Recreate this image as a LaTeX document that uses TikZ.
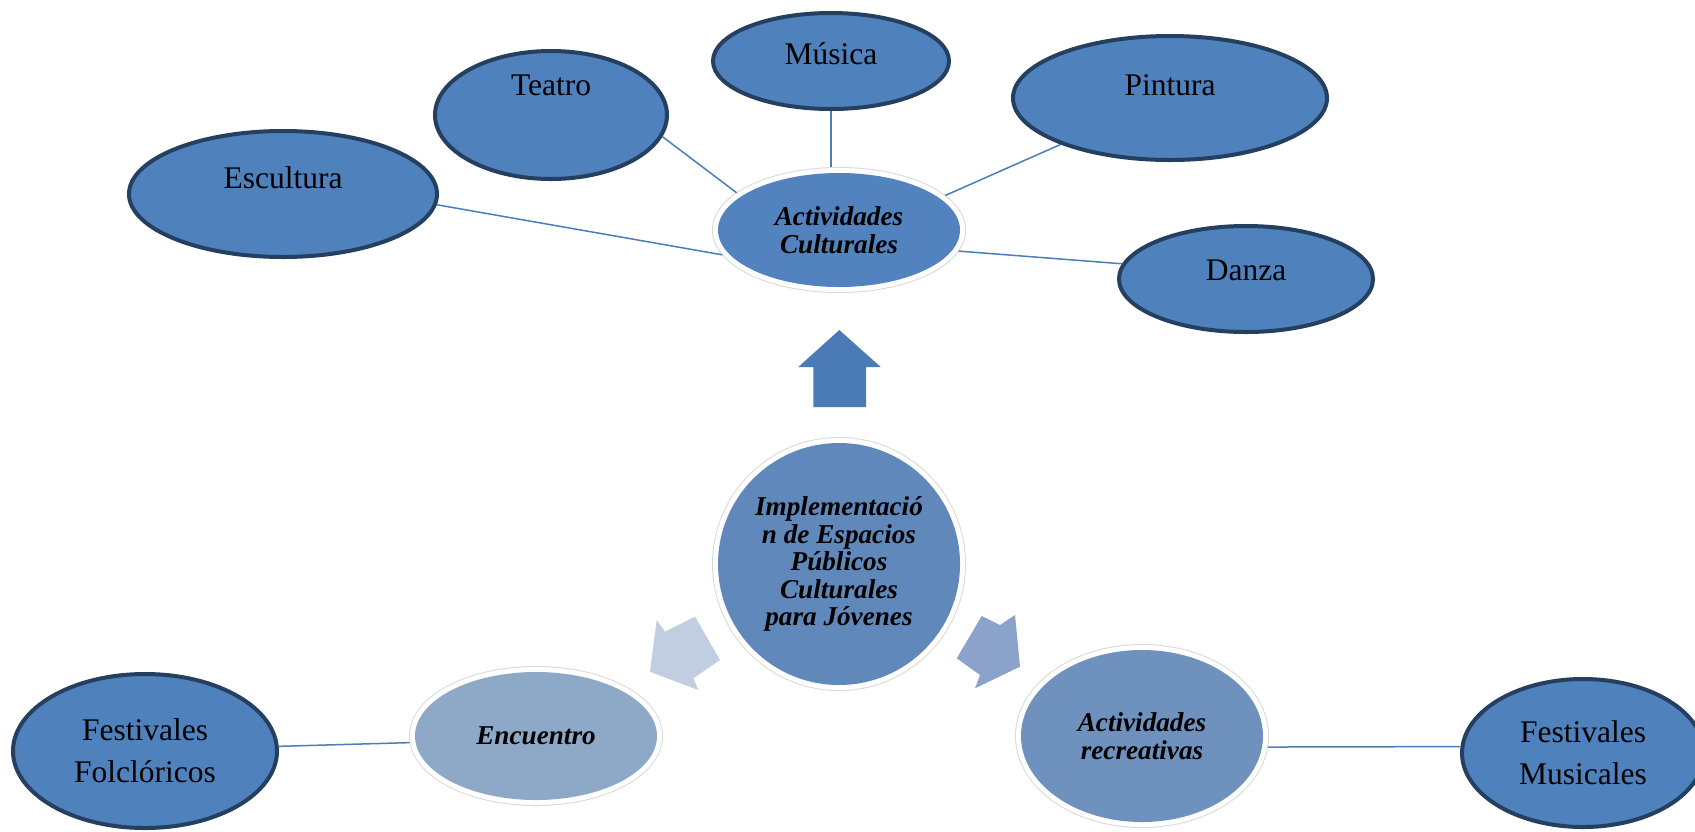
\documentclass[tikz,border=0pt]{standalone}
\usepackage{fontspec}
\setmainfont{Liberation Serif}
\usetikzlibrary{shapes.geometric}

\definecolor{bubblefill}{HTML}{4F81BD}
\definecolor{bubbleline}{HTML}{243F60}
\definecolor{linkblue}{HTML}{4A7EBB}
\definecolor{cultfill}{HTML}{5283BF}
\definecolor{hubfill}{HTML}{6088BB}
\definecolor{encfill}{HTML}{8EA8C8}
\definecolor{recfill}{HTML}{6E91BE}
\definecolor{arrowpale}{HTML}{C1CDE1}
\definecolor{arrowmid}{HTML}{8BA3CA}
\definecolor{arrowup}{HTML}{4A7BB7}

\newcommand\hubfont{\fontsize{13.6}{13.75}\selectfont\bfseries\itshape\lineskiplimit=-20pt\relax}

\tikzset{
  tag/.style={font=\fontsize{15.75}{21}\selectfont, align=center},
  bubble/.style={ellipse, draw=bubbleline, line width=2pt, fill=bubblefill,
    inner sep=0pt, tag},
  halo/.style={ellipse, inner sep=0pt, outer sep=3pt,
    preaction={draw=black!15, line width=6pt},
    preaction={draw=white, line width=5pt},
    font=\hubfont, align=center},
  link/.style={draw=linkblue, line width=0.75pt},
}

\begin{document}
\begin{tikzpicture}[x=0.5pt, y=-0.5pt]
    \useasboundingbox[fill=white] (0,0) rectangle (1695,831);
    % flechas
    \fill[arrowup] (839.3,330) -- (880.7,367) -- (866,367) -- (866,407)
        -- (813.3,407) -- (813.3,367) -- (798.3,367) -- cycle;
    \fill[arrowpale] (650,671.7) -- (656.7,620) -- (665,631.7) -- (695,616.7)
        -- (720,660) -- (693.3,678.3) -- (698.3,690) -- cycle;
    \fill[arrowmid] (981.7,616) -- (1000,625) -- (1015,615) -- (1020,666.7)
        -- (975,688.3) -- (980,675) -- (956.7,658.3) -- cycle;

    \node[halo, fill=cultfill, minimum width=121pt, minimum height=57pt] (cult) at (839,230)
        {Actividades\\Culturales};
    \node[halo, circle, fill=hubfill, minimum size=121pt] (hub) at (839,564)
        {Implementació\\n de Espacios\\Públicos\\Culturales\\para Jóvenes};
    \node[halo, fill=encfill, minimum width=121pt, minimum height=64pt] (encuentro) at (536,736)
        {Encuentro};
    \node[halo, fill=recfill, minimum width=121pt, minimum height=86pt] (recreo) at (1142,736)
        {Actividades\\recreativas};

    \node[bubble, minimum width=154pt, minimum height=63pt,
        label={[tag, yshift=8pt]center:Escultura}] (escultura) at (283,194) {};
    \node[bubble, minimum width=116pt, minimum height=64pt,
        label={[tag, yshift=15pt]center:Teatro}] (teatro) at (551,115) {};
    \node[bubble, minimum width=118pt, minimum height=48pt,
        label={[tag, yshift=3.5pt]center:Música}] (musica) at (831,61) {};
    \node[bubble, minimum width=157pt, minimum height=62pt,
        label={[tag, yshift=6.5pt]center:Pintura}] (pintura) at (1170,98) {};
    \node[bubble, minimum width=127pt, minimum height=53pt,
        label={[tag, yshift=4.5pt]center:Danza}] (danza) at (1246,279) {};
    \node[bubble, minimum width=132pt, minimum height=77pt] (folclor) at (145,751)
        {Festivales\\Folclóricos};
    \node[bubble, minimum width=121pt, minimum height=74pt] (musicales) at (1583,753)
        {Festivales\\Musicales};

    \draw[link] (escultura.-4) -- (cult.192);
    \draw[link] (teatro.-11) -- (cult.160);
    \draw[link] (musica.south) -- (musica.south |- cult.north);
    \draw[link] (pintura.203) -- (cult.18);
    \draw[link] (danza.173) -- (cult.-10);
    \draw[link] (folclor.2) -- (encuentro.183);
    \draw[link] (recreo.-5) -- (musicales.177);
\end{tikzpicture}
\end{document}
